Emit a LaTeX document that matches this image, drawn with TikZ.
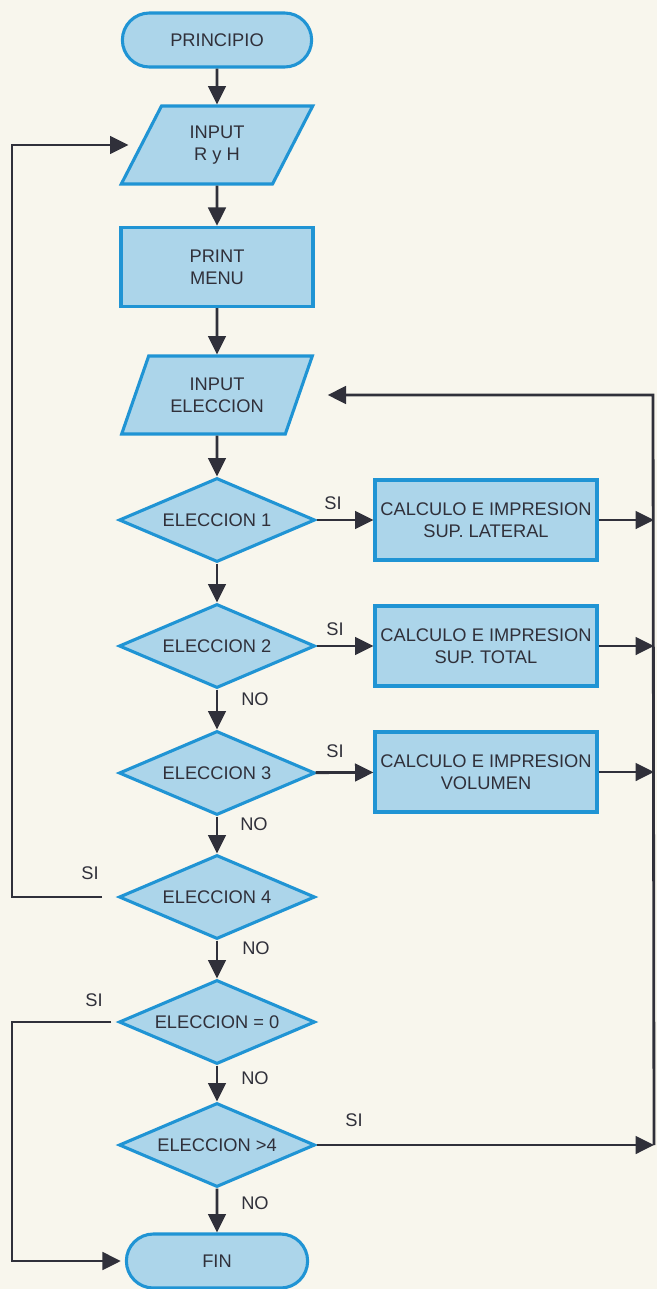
\documentclass[tikz,border=0pt]{standalone}
\usepackage{fontspec}
\setmainfont{Liberation Sans}
\usetikzlibrary{positioning, shapes.geometric, shapes.misc, arrows.meta}

\definecolor{paper}{RGB}{248,246,237}
\definecolor{boxfill}{RGB}{172,213,234}
\definecolor{boxedge}{RGB}{32,148,212}
\definecolor{ink}{RGB}{48,48,58}

\tikzset{
  base/.style={draw=boxedge, fill=boxfill, line width=2.2pt, text=ink,
    font=\fontsize{13}{15.5}\selectfont, align=center, inner sep=1pt},
  terminal/.style={base, rounded rectangle, minimum width=4.8cm, minimum height=1.35cm},
  io/.style={base, trapezium, trapezium left angle=63, trapezium right angle=117,
    trapezium stretches=true, minimum width=4.8cm, minimum height=1.95cm},
  proc/.style={base, rectangle, minimum width=4.8cm, minimum height=1.98cm},
  calc/.style={proc, minimum width=5.55cm, minimum height=2cm},
  test/.style={base, diamond, aspect=2.33, inner sep=0pt, minimum width=4.9cm, minimum height=2.1cm},
  link/.style={draw=ink, line width=2pt},
  flow/.style={link, -{Triangle[length=0.46cm, width=0.44cm]}},
  lbl/.style={text=ink, font=\fontsize{13}{15.5}\selectfont, inner sep=0pt}
}

\begin{document}
\begin{tikzpicture}[x=0.025cm, y=-0.025cm]
    % page
    \useasboundingbox (0,0) rectangle (657,1289);
    \fill[paper] (0,0) rectangle (657,1289);

    % main column
    \node[terminal] (start) at (217,40)   {PRINCIPIO};
    \node[io]       (inrh)  at (217,145)  {INPUT\\R y H};
    \node[proc]     (menu)  at (217,267)  {PRINT\\MENU};
    \node[io]       (inel)  at (217,395)  {INPUT\\ELECCION};
    \node[test]     (el1)   at (217,520)  {ELECCION 1};
    \node[test]     (el2)   at (217,646)  {ELECCION 2};
    \node[test]     (el3)   at (217,773)  {ELECCION 3};
    \node[test]     (el4)   at (217,897)  {ELECCION 4};
    \node[test]     (el0)   at (217,1022) {ELECCION = 0};
    \node[test]     (elg4)  at (217,1145) {ELECCION >4};
    \node[terminal, minimum width=4.6cm] (fin) at (217,1261) {FIN};

    % calculation boxes
    \node[calc] (box1) at (486,520) {CALCULO E IMPRESION\\SUP. LATERAL};
    \node[calc] (box2) at (486,646) {CALCULO E IMPRESION\\SUP. TOTAL};
    \node[calc] (box3) at (486,772) {CALCULO E IMPRESION\\VOLUMEN};

    % turning points of the loops
    \coordinate (rtop) at (653,395);
    \coordinate (r1)   at (654,520);
    \coordinate (r2)   at (654,646);
    \coordinate (r3)   at (654,772);
    \coordinate (rbot) at (654,1145);
    \coordinate (l4)   at (12,897);
    \coordinate (l0)   at (12,1022);

    % downward flow
    \draw[flow] (start) -- (inrh);
    \draw[flow] (inrh) -- (menu);
    \draw[flow] (menu) -- (inel);
    \draw[flow] (inel) -- (el1);
    \draw[flow] (el1) -- (el2);
    \draw[flow] (el2) -- (el3);
    \draw[flow] (el3) -- (el4);
    \draw[flow] (el4) -- (el0);
    \draw[flow] (el0) -- (elg4);
    \draw[flow] (elg4) -- (fin);

    % branches to the right
    \draw[flow] (el1) -- (box1);
    \draw[flow] (el2) -- (box2);
    \draw[flow] (el3) -- (box3);
    \draw[flow] (box1) -- (r1);
    \draw[flow] (box2) -- (r2);
    \draw[flow] (box3) -- (r3);
    \draw[flow] (elg4) -- (rbot);
    \draw[flow, shorten >=0.68cm] (rbot) -- (rtop) -- (inel);

    % loops on the left
    \draw[flow, shorten <=0.38cm, shorten >=0.28cm] (el4) -- (l4) |- (inrh);
    \draw[flow, shorten <=0.15cm, shorten >=0.1cm] (el0) -- (l0) |- (fin);

    % branch labels
    \node[lbl] (si1) at (333,503)  {SI};
    \node[lbl] (si2) at (335,629)  {SI};
    \node[lbl] (si3) at (335,751)  {SI};
    \node[lbl] (si4) at (90,873)   {SI};
    \node[lbl] (si0) at (94,1000)  {SI};
    \node[lbl] (sig) at (354,1120) {SI};
    \node[lbl] (no2) at (255,699)  {NO};
    \node[lbl] (no3) at (254,824)  {NO};
    \node[lbl] (no4) at (256,948)  {NO};
    \node[lbl] (no0) at (255,1078) {NO};
    \node[lbl] (nog) at (255,1203) {NO};
\end{tikzpicture}
\end{document}
